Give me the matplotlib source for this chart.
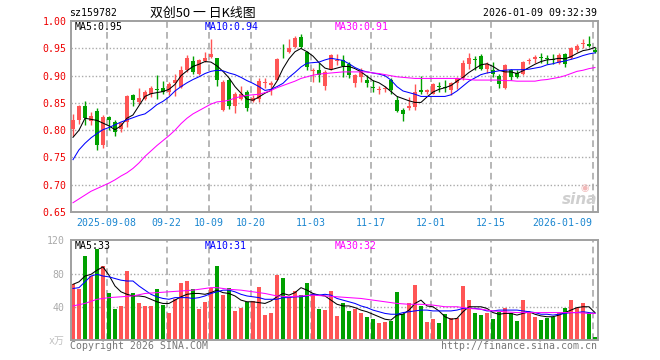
import matplotlib
matplotlib.use("Agg")
import matplotlib.pyplot as plt
import numpy as np

# ---- data (index = trading day, 0 = 2025-08-29) ----
opens = [.803, .819, .844, .817, .835, .772, .824, .815, .802, .815,
         .864, .851, .858, .867, .876, .877, .870, .887, .879, .910,
         .927, .904, .927, .935, .932, .838, .893, .844, .858, .870,
         .853, .858, .886, .883, .893, .955, .944, .952, .971, .944,
         .909, .911, .882, .913, .927, .928, .922, .887, .898, .893,
         .879, .874, .876, .892, .855, .838, .841, .842, .874, .871,
         .867, .881, .879, .873, .886, .895, .921, .931, .936, .913,
         .911, .899, .878, .910, .905, .904, .927, .930, .934, .932,
         .931, .924, .940, .932, .947, .958, .958, .948]
highs = [.829, .846, .854, .834, .841, .828, .826, .819, .816, .865,
         .866, .877, .873, .881, .901, .890, .889, .904, .917, .938,
         .936, .930, .944, .967, .932, .892, .896, .870, .882, .873,
         .864, .895, .895, .890, .932, .958, .967, .972, .976, .946,
         .915, .924, .911, .940, .940, .938, .925, .904, .915, .901,
         .892, .882, .882, .895, .862, .841, .861, .885, .899, .876,
         .886, .889, .892, .889, .897, .928, .942, .936, .940, .925,
         .925, .904, .921, .913, .910, .927, .933, .938, .941, .938,
         .940, .942, .941, .952, .959, .967, .973, .952]
lows = [.790, .812, .810, .810, .763, .768, .801, .789, .796, .806,
        .845, .849, .856, .861, .858, .867, .864, .863, .878, .907,
        .904, .901, .925, .933, .881, .836, .839, .831, .856, .836,
        .851, .852, .878, .864, .892, .932, .941, .950, .950, .910,
        .889, .889, .873, .911, .919, .898, .895, .879, .889, .879,
        .870, .867, .870, .867, .833, .817, .838, .838, .867, .866,
        .866, .870, .870, .864, .876, .893, .913, .910, .911, .905,
        .898, .878, .876, .893, .895, .901, .921, .924, .924, .922,
        .922, .921, .916, .930, .944, .950, .953, .941]
closes = [.819, .844, .822, .827, .772, .824, .818, .796, .813, .862,
          .855, .859, .870, .877, .874, .870, .885, .893, .911, .932,
          .907, .929, .932, .940, .892, .889, .844, .866, .866, .841,
          .860, .890, .888, .886, .930, .954, .950, .970, .952, .916,
          .911, .901, .907, .938, .929, .917, .901, .901, .911, .886,
          .878, .875, .878, .873, .836, .830, .844, .870, .871, .873,
          .884, .879, .877, .887, .895, .924, .932, .929, .913, .922,
          .904, .884, .919, .898, .898, .925, .929, .935, .932, .930,
          .929, .938, .922, .950, .954, .960, .954, .944]

volumes = [68, 61, 101, 77, 109, 89, 57, 37, 41, 83,
           56, 45, 41, 41, 61, 42, 33, 49, 69, 71,
           61, 37, 46, 63, 89, 54, 63, 35, 39, 46,
           47, 64, 30, 33, 78, 75, 52, 59, 54, 69,
           55, 37, 36, 59, 29, 44, 35, 37, 33, 28,
           25, 21, 22, 23, 58, 31, 44, 66, 41, 22,
           25, 21, 31, 27, 27, 65, 48, 32, 30, 32,
           25, 34, 39, 33, 23, 48, 33, 28, 24, 27,
           28, 32, 39, 48, 38, 44, 33, 4]

ma5 = [.787, .800, .822, .820, .818, .813, .808, .801, .808, .822,
       .828, .845, .862, .867, .869, .871, .875, .884, .900, .909,
       .917, .921, .926, .925, .918, .908, .896, .880, .868, .857,
       .855, .861, .868, .873, .890, .913, .931, .944, .950, .944,
       .936, .924, .914, .911, .914, .917, .917, .913, .907, .899,
       .891, .887, .880, .871, .862, .858, .854, .851, .851, .861,
       .870, .875, .878, .882, .890, .897, .906, .913, .920, .922,
       .917, .910, .907, .907, .904, .909, .915, .921, .926, .929,
       .930, .932, .931, .935, .941, .946, .948, .952]
ma10 = [.746, .764, .776, .786, .794, .801, .805, .810, .815, .819,
        .823, .827, .830, .838, .847, .853, .861, .872, .880, .887,
        .893, .898, .904, .908, .910, .909, .905, .902, .897, .891,
        .886, .880, .873, .875, .880, .886, .897, .906, .916, .923,
        .924, .925, .929, .932, .930, .928, .922, .915, .910, .907,
        .905, .903, .900, .892, .880, .872, .869, .866, .862, .862,
        .862, .862, .862, .865, .872, .881, .890, .896, .902, .905,
        .907, .909, .910, .911, .911, .911, .912, .914, .916, .920,
        .922, .925, .927, .930, .933, .937, .940, .942]
ma30 = [.667, .674, .681, .688, .693, .698, .703, .709, .716, .722,
        .730, .740, .752, .762, .772, .781, .790, .800, .812, .822,
        .830, .836, .842, .848, .852, .853, .855, .859, .862, .864,
        .865, .866, .869, .873, .878, .882, .886, .890, .895, .898,
        .901, .903, .904, .905, .906, .907, .907, .907, .907, .907,
        .905, .904, .902, .900, .898, .897, .896, .895, .895, .895,
        .895, .895, .895, .895, .895, .894, .893, .892, .892, .892,
        .892, .892, .891, .891, .890, .890, .890, .890, .892, .893,
        .895, .897, .900, .904, .908, .910, .913, .915]

vol_ma5 = [67, 70, 77, 79, 84, 88, 78, 65, 58, 55,
           53, 53, 52, 49, 46, 44, 44, 48, 52, 55,
           56, 56, 55, 57, 60, 57, 56, 53, 48, 46,
           46, 45, 44, 47, 52, 56, 54, 57, 63, 60,
           56, 54, 53, 48, 43, 41, 41, 39, 36, 34,
           31, 28, 25, 24, 30, 31, 36, 44, 48, 41,
           40, 35, 28, 25, 26, 34, 40, 40, 40, 38,
           33, 31, 32, 32, 30, 32, 34, 31, 29, 28,
           28, 30, 33, 36, 39, 40, 40, 33]
vol_ma10 = [62, 63, 70, 77, 79, 77, 76, 74, 72, 71,
            71, 65, 60, 55, 52, 50, 49, 51, 51, 51,
            50, 51, 53, 56, 58, 60, 60, 58, 55, 53,
            52, 51, 49, 49, 49, 51, 51, 52, 52, 53,
            55, 54, 55, 54, 50, 48, 46, 44, 41, 39,
            36, 34, 32, 31, 31, 33, 34, 35, 36, 36,
            35, 35, 35, 35, 36, 38, 38, 38, 37, 35,
            35, 36, 36, 36, 36, 35, 34, 33, 31, 31,
            30, 31, 32, 33, 33, 34, 33, 32]
vol_ma30_idx = [0, 2, 4, 6, 8, 10, 12, 14, 16, 18, 20, 22, 23, 24, 26, 28,
                30, 32, 34, 36, 38, 40, 42, 44, 46, 48, 50, 52, 54, 56, 58,
                60, 62, 64, 66, 68, 70, 72, 74, 76, 78, 80, 82, 84, 86, 87]
vol_ma30 = [41, 44, 49, 51, 52, 53, 56, 57, 58, 59, 60, 62, 63, 63, 61, 60,
            58, 56, 53, 52, 53, 54, 53, 52, 51, 50, 48, 46, 44, 43, 43,
            42, 40, 40, 38, 37, 35, 34, 33, 33, 33, 33, 33, 33, 32, 32]

# legend values as printed on the chart
price_ma_labels = ['MA5:0.95', 'MA10:0.94', 'MA30:0.91']
vol_ma_labels = ['MA5:33', 'MA10:31', 'MA30:32']

date_idx = [6, 16, 23, 30, 40, 50, 60, 70, 87]
date_labels = ['2025-09-08', '09-22', '10-09', '10-20', '11-03',
               '11-17', '12-01', '12-15', '2026-01-09']
price_ticks = [0.65, 0.70, 0.75, 0.80, 0.85, 0.90, 0.95, 1.00]
vol_ticks = [0, 40, 80, 120]
vol_tick_labels = ['x万', '40', '80', '120']

# ---- styling ----
RED = '#ff5555'
GREEN = '#00a000'
GRID = '#aaaaaa'
FRAME = '#a0a0a0'
MA_COLORS = ['black', '#0000ff', '#ff00ff']
MONO = ['DejaVu Sans Mono', 'Noto Sans CJK SC']
FS = 7.1
LW = 0.75

W, H = 660, 360
fig = plt.figure(figsize=(6.6, 3.6), dpi=100)
fig.patch.set_facecolor('white')

def px_axes(l, t, r, b):
    return fig.add_axes([l / W, 1 - b / H, (r - l) / W, (b - t) / H])

ax = px_axes(70.7, 21.2, 597.5, 212.0)
axv = px_axes(70.7, 240.3, 597.5, 340.0)

n = len(closes)
x = np.arange(n)
o = np.array(opens); c = np.array(closes)
hi = np.array(highs); lo = np.array(lows)
up = c >= o
colors = np.where(up, RED, GREEN)

for a in (ax, axv):
    a.set_xlim(-0.38, n - 0.58)
    for sp in a.spines.values():
        sp.set_color(FRAME)
        sp.set_linewidth(1.4)
    for d in date_idx:
        a.axvline(d - 0.4, color=GRID, lw=1.2, ls=(0, (4, 2.5)), zorder=0)
    a.tick_params(length=0)

# price panel
ax.set_ylim(0.65, 1.00)
for v in price_ticks[1:-1]:
    ax.axhline(v, color=GRID, lw=1, ls=(0, (1, 1.5)), zorder=0)
ax.vlines(x, lo, hi, colors=colors, lw=1, zorder=2)
body_bottom = np.minimum(o, c)
body_h = np.maximum(np.abs(c - o), 0.0012)
ax.bar(x, body_h, bottom=body_bottom, width=0.8, color=colors, lw=0, zorder=3)
for series, col in zip((ma5, ma10, ma30), MA_COLORS):
    ax.plot(x, series, color=col, lw=LW, zorder=4)

ax.set_yticks(price_ticks)
ax.set_yticklabels(['%.2f' % v for v in price_ticks], family=MONO,
                   fontsize=FS, color='#ee0000')
ax.tick_params(axis='y', pad=3.2)
ax.set_xticks([d - 0.4 for d in date_idx])
ax.set_xticklabels(date_labels, family=MONO, fontsize=FS, color='#1a86d0')
ax.tick_params(axis='x', pad=4.5)
ax.get_xticklabels()[-1].set_ha('right')

# volume panel
axv.set_ylim(0, 120)
for v in (40, 80):
    axv.axhline(v, color=GRID, lw=1, ls=(0, (1, 1.5)), zorder=0)
axv.bar(x, volumes, width=0.82, color=colors, lw=0, zorder=2)
axv.plot(x, vol_ma5, color=MA_COLORS[0], lw=LW, zorder=3)
axv.plot(x, vol_ma10, color=MA_COLORS[1], lw=LW, zorder=3)
axv.plot(vol_ma30_idx, vol_ma30, color=MA_COLORS[2], lw=LW, zorder=3)
axv.set_xticks([])
axv.set_yticks(vol_ticks)
axv.set_yticklabels(vol_tick_labels, family=MONO, fontsize=FS, color='#aaaaaa')
axv.tick_params(axis='y', pad=4.5)
axv.get_yticklabels()[0].set_color('#c0c0c0')

# texts
def ftext(px, py, s, **kw):
    kw.setdefault('family', MONO)
    kw.setdefault('fontsize', FS)
    kw.setdefault('va', 'center')
    fig.text(px / W, 1 - py / H, s, **kw)

ftext(69.5, 13, 'sz159782', color='black')
ftext(150.5, 13, '双创50 一 日K线图', color='black',
      family=['Noto Sans CJK SC', 'DejaVu Sans'], fontsize=9.3)
ftext(597, 13, '2026-01-09 09:32:39', color='black', ha='right')

for px, s, col in zip((75, 205, 335), price_ma_labels, MA_COLORS):
    ftext(px, 26.5, s, color=col)
for px, s, col in zip((74.7, 204.7, 334.7), vol_ma_labels, MA_COLORS):
    ftext(px, 246, s, color=col)

ftext(70, 346, 'Copyright 2026 SINA.COM', color='#777777')
ftext(597, 346, 'http://finance.sina.com.cn', color='#777777', ha='right')

# sina watermark
ftext(580, 199, 'sina', color='#cfcfcf', family='DejaVu Sans', fontsize=11,
      style='italic', weight='bold', ha='center')
ftext(585, 188, '◉', color='#f2b8b8', family='DejaVu Sans', fontsize=7,
      ha='center')

fig.savefig('out.png', dpi=100, facecolor='white')
